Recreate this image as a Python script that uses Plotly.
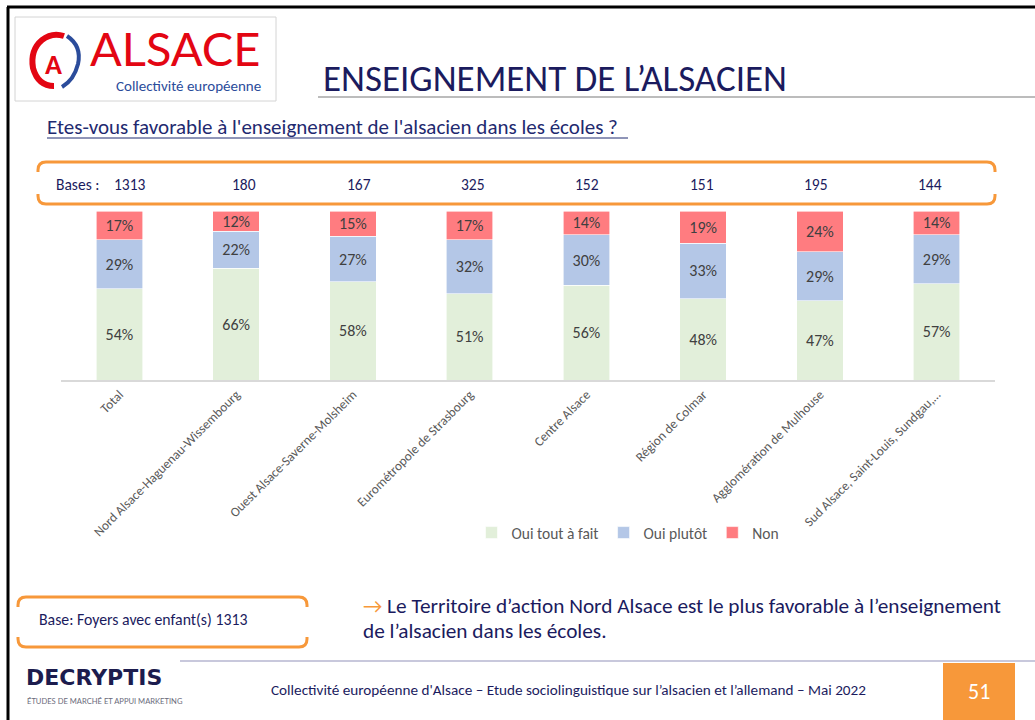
import plotly.graph_objects as go

# --- Données ---------------------------------------------------------------
territoires = [
    "Total",
    "Nord Alsace-Haguenau-Wissembourg",
    "Ouest Alsace-Saverne-Molsheim",
    "Eurométropole de Strasbourg",
    "Centre Alsace",
    "Région de Colmar",
    "Agglomération de Mulhouse",
    "Sud Alsace, Saint-Louis, Sundgau,…",
]
bases = [1313, 180, 167, 325, 152, 151, 195, 144]
oui_tout_a_fait = [54, 66, 58, 51, 56, 48, 47, 57]
oui_plutot = [29, 22, 27, 32, 30, 33, 29, 29]
non = [17, 12, 15, 17, 14, 19, 24, 14]

series = [
    ("Oui tout à fait", oui_tout_a_fait, "#E2EFDA"),
    ("Oui plutôt", oui_plutot, "#B4C7E7"),
    ("Non", non, "#FF7C80"),
]

W, H = 1035, 720
PL, PR, PT, PB = 61, 995, 211, 380  # zone de tracé en pixels
FONT = "Carlito, Calibri, Lato, sans-serif"
NAVY = "#1B1B5E"
ORANGE = "#F7983A"


def px(x):
    return (x - PL) / (PR - PL)


def py(y):
    return (PB - y) / (PB - PT)


fig = go.Figure()
for name, vals, color in series:
    fig.add_trace(go.Bar(
        name=name,
        x=territoires,
        y=vals,
        marker=dict(color=color, line=dict(color="white", width=0.6)),
        texttemplate="%{y}%",
        textposition="inside",
        insidetextanchor="middle",
        textfont=dict(family=FONT, size=16, color="#404040"),
        constraintext="none",
        width=0.4,
        hoverinfo="skip",
    ))

shapes = []
annotations = []


def line(x0, y0, x1, y1, color, width):
    shapes.append(dict(type="line", xref="paper", yref="paper",
                       x0=px(x0), y0=py(y0), x1=px(x1), y1=py(y1),
                       line=dict(color=color, width=width), layer="above"))


def path(points, color, width):
    d = ""
    for cmd, *coords in points:
        pts = []
        for i in range(0, len(coords), 2):
            pts.append(f"{px(coords[i]):.5f},{py(coords[i + 1]):.5f}")
        d += cmd + " " + " ".join(pts) + " "
    shapes.append(dict(type="path", xref="paper", yref="paper", path=d.strip(),
                       line=dict(color=color, width=width), layer="above"))


def bracket_box(x0, y0, x1, y1, leg, r, color, width):
    # crochets arrondis : trait haut et trait bas avec coins courbés
    path([("M", x0, y0 + leg), ("L", x0, y0 + r), ("Q", x0, y0, x0 + r, y0),
          ("L", x1 - r, y0), ("Q", x1, y0, x1, y0 + r), ("L", x1, y0 + leg)], color, width)
    path([("M", x0, y1 - leg), ("L", x0, y1 - r), ("Q", x0, y1, x0 + r, y1),
          ("L", x1 - r, y1), ("Q", x1, y1, x1, y1 - r), ("L", x1, y1 - leg)], color, width)


def text(x, y, s, size, color, anchor="left", family=FONT, **kw):
    annotations.append(dict(xref="paper", yref="paper", x=px(x), y=py(y), text=s,
                            showarrow=False, xanchor=anchor, yanchor="middle",
                            font=dict(family=family, size=size, color=color), **kw))


# Cadre de la page
line(7, 7, 1035, 7, "#000000", 3)
line(8, 7, 8, 720, "#000000", 3)

# Logo de la Collectivité
shapes.append(dict(type="rect", xref="paper", yref="paper",
                   x0=px(15), y0=py(17), x1=px(276), y1=py(101),
                   line=dict(color="#D4D4D4", width=1), fillcolor="white", layer="below"))
path([("M", 54, 86), ("Q", 38, 86, 33, 68), ("Q", 30, 50, 42, 40),
      ("Q", 52, 32, 64, 36)], "#E30613", 6)
path([("M", 67, 36), ("Q", 82, 46, 78, 64), ("Q", 74, 80, 62, 87)], "#2B4C9B", 4)
text(53, 64, "<b>A</b>", 28, "#E30613", anchor="center")
text(88, 47.5, "ALSACE", 47, "#E30613", family="Lato, sans-serif")
text(114, 86.5, "Collectivité européenne", 15, "#2B4C9B")

# Titre et question
text(321, 78, "ENSEIGNEMENT DE L’ALSACIEN", 37, NAVY)
line(318, 97, 1035, 97, "#A6A6A6", 1.5)
text(45, 127, "Etes-vous favorable à l'enseignement de l'alsacien dans les écoles ?", 21, "#1F2A70")
line(47, 138, 628, 138, "#1F2A70", 1)

# Bandeau des bases
bracket_box(38, 162, 995, 204, 10, 8, ORANGE, 3)
text(54, 184, "Bases :", 15.5, NAVY)
for i, b in enumerate(bases):
    text(130 + i * 114.3, 184, str(b), 15.5, NAVY, anchor="center")

# Encadré de base et commentaire
bracket_box(18, 597, 307, 647, 10, 8, ORANGE, 3)
text(37, 619, "Base: Foyers avec enfant(s) 1313", 15.8, NAVY)
text(361, 606, f"<span style='color:{ORANGE}'>→</span> Le Territoire d’action Nord Alsace est le plus favorable à l’enseignement",
     21.3, NAVY)
text(361, 631, "de l’alsacien dans les écoles.", 21.3, NAVY)

# Pied de page
line(180, 661, 1035, 661, "#C8C8DC", 2)
text(24, 677, "<b>DECRYPTIS</b>", 22, "#1C1C4E", family="DejaVu Sans, sans-serif")
text(25, 701, "ÉTUDES DE MARCHÉ ET APPUI MARKETING", 7.6, "#6B6B7B", family="Lato, sans-serif")
text(568, 690, "Collectivité européenne d'Alsace – Etude sociolinguistique sur l’alsacien et l’allemand – Mai 2022",
     15.2, NAVY, anchor="center")
shapes.append(dict(type="rect", xref="paper", yref="paper",
                   x0=px(943), y0=py(663), x1=px(1015), y1=py(721),
                   line=dict(width=0), fillcolor=ORANGE, layer="above"))
text(979, 691, "51", 22, "white", anchor="center")

fig.update_layout(
    width=W, height=H,
    margin=dict(l=PL, r=W - PR, t=PT, b=H - PB, autoexpand=False),
    paper_bgcolor="white", plot_bgcolor="white",
    barmode="stack", bargap=0.6,
    showlegend=True,
    legend=dict(orientation="h", xref="container", yref="container",
                x=628 / W, y=1 - 533 / H, xanchor="center", yanchor="middle",
                font=dict(family=FONT, size=15.5, color="#595959"),
                itemwidth=30, traceorder="normal"),
    xaxis=dict(showline=True, linecolor="#D9D9D9", linewidth=1.5, ticks="",
               tickangle=-45, showgrid=False, zeroline=False,
               tickfont=dict(family=FONT, size=13.2, color="#595959"),
               range=[-0.5, 7.5]),
    yaxis=dict(visible=False, range=[0, 100], showgrid=False),
    shapes=shapes,
    annotations=annotations,
    font=dict(family=FONT),
)

fig.write_html("out.html")
